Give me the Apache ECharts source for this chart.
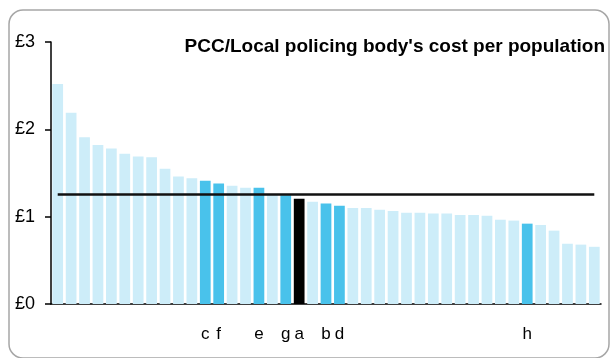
<!DOCTYPE html>
<html>
<head>
<meta charset="utf-8">
<script src="https://cdn.jsdelivr.net/npm/echarts@6/dist/echarts.min.js"></script>
<style>
html,body{margin:0;padding:0;background:#fff;}
#chart{width:610px;height:358px;}
</style>
</head>
<body>
<div id="chart"></div>
<script>
// Category labels (only highlighted bodies are labelled)
const labels = ['', '', '', '', '', '', '', '', '', '', '', 'c', 'f', '', '', 'e', '', 'g', 'a', '', 'b', 'd', '', '', '', '', '', '', '', '', '', '', '', '', '', 'h', '', '', '', '', ''];
// Cost per population (£)
const values = [2.52, 2.19, 1.91, 1.82, 1.78, 1.72, 1.69, 1.68, 1.55, 1.46, 1.44, 1.41, 1.38, 1.355, 1.33, 1.33, 1.25, 1.245, 1.205, 1.17, 1.15, 1.125, 1.10, 1.10, 1.08, 1.065, 1.045, 1.045, 1.035, 1.035, 1.02, 1.02, 1.01, 0.965, 0.955, 0.92, 0.905, 0.84, 0.69, 0.68, 0.655];
// Average line value
const average = 1.26;
const yTicks = ['£0', '£1', '£2', '£3'];
const titleText = "PCC/Local policing body's cost per population";

const FONT = "'Liberation Sans', Arial, sans-serif";
const LIGHT = '#cdedf9';
const BLUE = '#49c2eb';
const BLACK = '#000000';

const cats = labels.map((l, i) => String(i));
const barData = values.map((v, i) => ({
  value: v,
  itemStyle: { color: labels[i] === 'a' ? BLACK : (labels[i] ? BLUE : LIGHT) }
}));

const chart = echarts.init(document.getElementById('chart'), null, { renderer: 'canvas' });
chart.setOption({
  animation: false,
  backgroundColor: '#fff',
  grid: { left: 51, right: 9, top: 42, bottom: 54, containLabel: false },
  xAxis: {
    type: 'category',
    data: cats,
    boundaryGap: true,
    axisLine: { lineStyle: { color: '#000', width: 1.5 } },
    axisTick: { show: false },
    axisLabel: {
      interval: 0,
      margin: 22,
      fontFamily: FONT,
      fontSize: 17,
      color: '#000',
      formatter: (v, i) => labels[i]
    },
    splitLine: { show: false }
  },
  yAxis: {
    type: 'value',
    min: 0,
    max: 3,
    interval: 1,
    axisLine: { show: true, lineStyle: { color: '#000', width: 1.5 } },
    axisTick: { show: true, length: 6, inside: false, lineStyle: { color: '#000', width: 1.5 } },
    axisLabel: {
      margin: 16,
      fontFamily: FONT,
      fontSize: 18,
      color: '#000',
      formatter: (v) => yTicks[Math.round(v)]
    },
    splitLine: { show: false }
  },
  series: [
    {
      type: 'bar',
      data: barData,
      barWidth: '80%',
      markLine: {
        silent: true,
        symbol: ['none', 'none'],
        label: { show: false },
        lineStyle: { color: '#111', width: 2.5, type: 'solid' },
        data: [[{ coord: ['0', average] }, { coord: [String(values.length - 1), average] }]]
      }
    }
  ],
  graphic: [
    {
      type: 'rect',
      shape: { x: 9, y: 10, width: 600, height: 348, r: 14 },
      style: { fill: 'none', stroke: '#a6a6a6', lineWidth: 1.5 },
      z: 100,
      silent: true
    },
    {
      type: 'text',
      x: 605,
      y: 47,
      style: {
        text: titleText,
        fontFamily: FONT,
        fontSize: 19,
        fontWeight: 'bold',
        fill: '#000',
        textAlign: 'right',
        textVerticalAlign: 'middle'
      },
      z: 100
    }
  ]
});
</script>
</body>
</html>
